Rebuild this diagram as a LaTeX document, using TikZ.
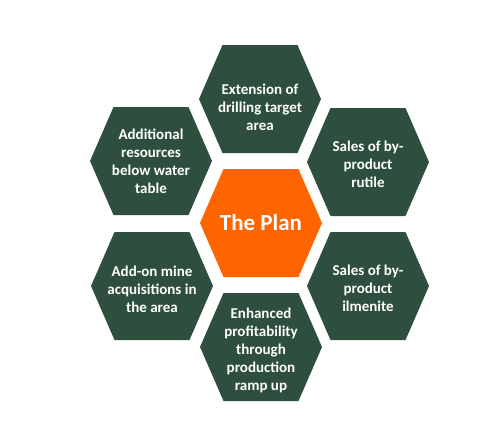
\documentclass[tikz,border=0pt]{standalone}
\usepackage{fontspec}
\setmainfont{Carlito}
\definecolor{hexgreen}{RGB}{47,79,62}
\definecolor{hexorange}{RGB}{254,100,0}
\tikzset{
  hexa/.pic={\fill[pic actions] (-61,0) -- (-37.5,-54) -- (37.5,-54) -- (61,0) -- (37.5,54) -- (-37.5,54) -- cycle;},
  hexlabel/.style={text=white,font=\bfseries\fontsize{15}{18}\selectfont,align=center,inner sep=0pt},
  planlabel/.style={text=white,font=\bfseries\fontsize{23}{27}\selectfont,align=center,inner sep=0pt},
}
\begin{document}
\begin{tikzpicture}[x=1pt,y=-1pt]
\useasboundingbox (0,0) rectangle (485,426);
\pic[fill=hexorange] at (261,223) {hexa};
\pic[fill=hexgreen] at (260,99) {hexa};
\pic[fill=hexgreen] at (368,162) {hexa};
\pic[fill=hexgreen] at (368,286) {hexa};
\pic[fill=hexgreen] at (261,347) {hexa};
\pic[fill=hexgreen] at (152,286) {hexa};
\pic[fill=hexgreen] at (151,161) {hexa};
\node[planlabel] (plan) at (261,223) {The Plan};
\node[hexlabel] (ext) at (260,107) {Extension of\\drilling target\\area};
\node[hexlabel] (rutile) at (368,164) {Sales of by-\\product\\rutile};
\node[hexlabel] (ilmenite) at (368,288) {Sales of by-\\product\\ilmenite};
\node[hexlabel] (enh) at (261,350) {Enhanced\\profitability\\through\\production\\ramp up};
\node[hexlabel] (addon) at (152,289) {Add-on mine\\acquisitions in\\the area};
\node[hexlabel] (addres) at (151,161) {Additional\\resources\\below water\\table};
\end{tikzpicture}
\end{document}
